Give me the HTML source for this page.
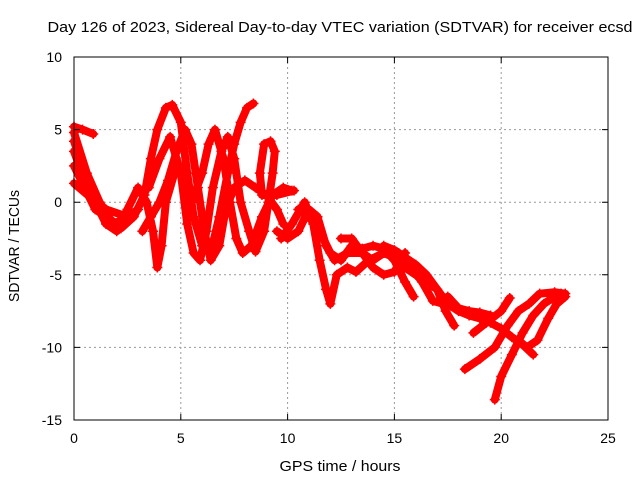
<!DOCTYPE html>
<html><head><meta charset="utf-8"><style>
body{margin:0;background:#fff}
svg{display:block;font-family:"Liberation Sans",sans-serif}
</style></head><body>
<svg id="chart" width="640" height="480">
<text x="340" y="32" font-size="15" text-anchor="middle" textLength="585" lengthAdjust="spacingAndGlyphs">Day 126 of 2023, Sidereal Day-to-day VTEC variation (SDTVAR) for receiver ecsd</text>
<text x="340" y="471" font-size="15" text-anchor="middle" textLength="121" lengthAdjust="spacingAndGlyphs">GPS time / hours</text>
<text transform="translate(19,246) rotate(-90)" font-size="15" text-anchor="middle" textLength="112" lengthAdjust="spacingAndGlyphs">SDTVAR / TECUs</text>
<g id="grid"></g><g id="series"></g><g id="axes"></g>
</svg>
<script>
const xTicks=[0,5,10,15,20,25];
const yTicks=[10,5,0,-5,-10,-15];
const tracks=[
[[0,5.2],[0.4,5],[0.9,4.7]],
[[0,4.8],[0.6,2],[1.2,0],[1.7,-1.2],[2.2,-1.8],[2.8,-1],[3.3,0.5],[3.6,3],[3.9,5],[4.3,6.5],[4.6,6.7],[5,5.5],[5.3,2],[5.6,-1],[6,-3],[6.4,-3.5],[6.8,-1],[7.2,2],[7.5,4],[7.8,5.5],[8.1,6.5],[8.4,6.8]],
[[0,3.5],[0.5,1.5],[1,0],[1.5,-1.5],[2,-2],[2.5,-0.5],[3,1],[3.4,0],[3.7,-2],[3.9,-4.5],[4.1,-3],[4.3,0],[4.7,2]],
[[0,4.2],[0.4,2.5],[0.8,1],[1.3,-0.3],[1.8,-1.5],[2.3,-1.2]],
[[0,2.5],[0.5,1],[1,-0.5],[1.5,-1],[2,-1.5],[2.6,-0.8]],
[[0,1.3],[0.8,0.3],[1.5,-0.5],[2.5,-1],[3,-0.5]],
[[3.5,1],[4,3],[4.5,4.5],[5,2],[5.3,-1.5],[5.6,-3.5],[5.9,-4],[6.2,-2],[6.5,1],[6.9,3.5],[7.2,4.5],[7.5,3],[7.8,0],[8.2,-2],[8.5,-3.4],[8.9,-2],[9.1,0],[9.3,2],[9.4,3.5],[9.2,4.2],[8.9,4],[8.7,2],[8.8,0.5],[9.5,0.5],[10.3,0.8]],
[[3.2,-2],[3.6,-1],[4,0],[4.4,1.5],[4.8,3.5],[5.2,5],[5.5,4],[5.8,1],[6.1,-2],[6.4,-4],[6.8,-3],[7.1,-0.5],[7.5,1],[8,1.5],[8.5,1],[9,0.5],[9.5,-0.5],[9.8,-1.5]],
[[5.5,0],[6,2],[6.3,4],[6.6,5],[7,3],[7.3,0],[7.6,-2.5],[7.9,-3.5],[8.3,-3],[8.8,-1],[9.3,0.5],[9.8,1],[10.2,0.8]],
[[9.5,-2],[10,-2.5],[10.5,-2],[11,-0.5],[11.4,-1],[11.8,-3],[12.2,-4],[12.8,-3.5],[13.5,-3.5],[14,-4],[14.5,-3.5],[15,-3.8],[15.5,-4.5],[16,-5],[16.5,-5.5],[17,-6],[17.5,-7],[18,-7.5],[18.5,-7.8],[19,-8],[19.5,-8.3],[20,-8.7],[20.5,-9.3],[21,-9.8],[21.5,-10.5]],
[[9.7,-2.5],[10.2,-1.5],[10.8,0],[11.2,-1.5],[11.5,-4],[11.8,-6],[12,-7],[12.3,-5],[12.8,-4.5],[13.2,-4.8],[13.8,-4],[14.5,-3.5],[15.2,-3.7]],
[[10.5,-0.5],[11,-1],[11.5,-2],[12,-3.5],[12.5,-4],[13,-3],[13.5,-3.2],[14,-3],[14.5,-3.2],[15,-4],[15.5,-5.5],[15.9,-6.5]],
[[12.5,-2.5],[13,-2.5],[13.5,-3.5],[14,-4.5],[14.5,-5],[15,-4.8],[15.5,-3.5]],
[[14.5,-3],[15,-3.3],[15.5,-3.8],[16,-4.3],[16.5,-5],[17,-6],[17.4,-7.5],[17.8,-8.5]],
[[15.2,-3.5],[15.8,-4.5],[16.3,-5.5],[16.8,-6.8],[17.3,-7]],
[[18.3,-11.5],[19,-10.8],[19.7,-10],[20.3,-8.5],[20.8,-7.5],[21.3,-7],[21.8,-6.3],[22.5,-6.2],[23,-6.3]],
[[19.7,-13.6],[20,-12],[20.5,-10.5],[21,-9],[21.5,-7.8],[22,-7],[22.4,-6.6],[22.8,-6.3]],
[[20.8,-9.5],[21.2,-10],[21.7,-9.5],[22.2,-8],[22.6,-7],[23,-6.5]],
[[18.7,-9],[19.3,-8.3],[20,-7.5],[20.4,-6.6]],
[[17.5,-6.5],[18,-7.3],[18.5,-7.5],[19,-7.6],[19.5,-7.8]]
];
const L=74,R=608,T=57,B=420;
const sx=v=>L+(v-0)/25*(R-L);
const sy=v=>T+(10-v)/25*(B-T);
const NS='http://www.w3.org/2000/svg';
function mk(tag,attrs,parent){const e=document.createElementNS(NS,tag);for(const k in attrs)e.setAttribute(k,attrs[k]);parent.appendChild(e);return e;}
const grid=document.getElementById('grid'),axes=document.getElementById('axes'),ser=document.getElementById('series');
xTicks.forEach(t=>{
  if(t>0&&t<25){const g=mk('line',{x1:sx(t),x2:sx(t),y1:T,y2:B,stroke:'#999','stroke-dasharray':'2,3'},grid);
  
  }
  const tk=mk('path',{d:`M${sx(t)},${B}v-6M${sx(t)},${T}v6`,stroke:'#000'},axes);
  
  
  const lb=mk('text',{x:sx(t),y:B+23,'font-size':14,'text-anchor':'middle'},axes);lb.textContent=t;
  
  
});
yTicks.forEach(t=>{
  if(t<10&&t>-15){const g=mk('line',{x1:L,x2:R,y1:sy(t),y2:sy(t),stroke:'#999','stroke-dasharray':'2,3'},grid);
  
  }
  const tk=mk('path',{d:`M${L},${sy(t)}h6M${R},${sy(t)}h-6`,stroke:'#000'},axes);
  
  
  const lb=mk('text',{x:L-12,y:sy(t)+5,'font-size':14,'text-anchor':'end'},axes);lb.textContent=t;
  
  
});
const fr=mk('rect',{x:L,y:T,width:R-L,height:B-T,fill:'none',stroke:'#000'},axes);


tracks.forEach(tr=>{
  const p=mk('polyline',{points:tr.map(d=>sx(d[0])+','+sy(d[1])).join(' '),fill:'none',stroke:'#f00','stroke-width':8,'stroke-linejoin':'round','stroke-linecap':'round'},ser);
  
  
  tr.forEach(d=>{const m=mk('path',{d:`M${sx(d[0])-5},${sy(d[1])}h10M${sx(d[0])},${sy(d[1])-5}v10`,stroke:'#f00','stroke-width':1.5},ser);
    
    });
});
</script>
</body></html>
